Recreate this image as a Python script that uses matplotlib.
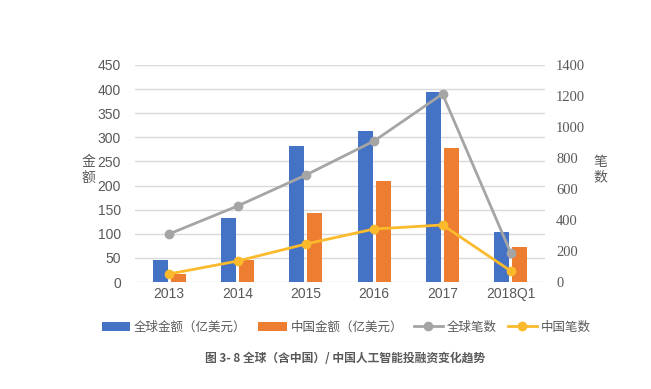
import numpy as np
import matplotlib.pyplot as plt

plt.rcParams['font.family'] = ['Noto Sans CJK SC', 'DejaVu Sans']

years = ["2013", "2014", "2015", "2016", "2017", "2018Q1"]
global_amount = [46, 132, 281, 314, 395, 104]
china_amount = [17, 46, 143, 209, 277, 72]
global_count = [310, 490, 690, 910, 1213, 187]
china_count = [52, 135, 245, 342, 368, 71]

txt = "#595959"
fig = plt.figure(figsize=(6.51, 3.89), dpi=100)
ax = fig.add_axes([135 / 651, 1 - 282 / 389, 410 / 651, 217 / 389])
ax2 = ax.twinx()

x = np.arange(len(years))
w = 0.22
ax.bar(x - 0.13, global_amount, w, color="#4472C4", label="全球金额（亿美元）", zorder=2)
ax.bar(x + 0.13, china_amount, w, color="#ED7D31", label="中国金额（亿美元）", zorder=2)
ax2.plot(x, global_count, color="#A5A5A5", lw=2, marker="o", ms=6, label="全球笔数")
ax2.plot(x, china_count, color="#FBBA2C", lw=2, marker="o", ms=6, label="中国笔数")

ax.set_xlim(-0.5, len(years) - 0.5)
ax.set_ylim(0, 450)
ax.set_yticks(range(0, 451, 50))
ax2.set_ylim(0, 1400)
ax2.set_yticks(range(0, 1401, 200))
ax.set_xticks(x)
ax.set_xticklabels(years)
ax.grid(axis="y", color="#D9D9D9", lw=1, zorder=0)
ax.set_axisbelow(True)

for a in (ax, ax2):
    for s in a.spines.values():
        s.set_visible(False)
    a.tick_params(length=0, colors=txt, labelsize=10)
ax.tick_params(axis="y", pad=10)
ax2.tick_params(axis="y", pad=8)
for t in ax.get_yticklabels() + ax.get_xticklabels():
    t.set_family("Liberation Sans")
for t in ax2.get_yticklabels():
    t.set_family("Liberation Serif")
    t.set_fontsize(10.5)

fig.text(88 / 651, 1 - 170 / 389, "金\n额", ha="center", va="center", color=txt, fontsize=10, linespacing=1.1)
fig.text(600 / 651, 1 - 170 / 389, "笔\n数", ha="center", va="center", color=txt, fontsize=10, linespacing=1.1)

h1, l1 = ax.get_legend_handles_labels()
h2, l2 = ax2.get_legend_handles_labels()
fig.legend(h1 + h2, l1 + l2, loc="center", bbox_to_anchor=(346 / 651, 1 - 327 / 389), ncol=4,
           frameon=False, fontsize=9, labelcolor=txt, handlelength=2.3, columnspacing=0.9,
           handletextpad=0.3)

fig.text(345 / 651, 1 - 358 / 389, "图 3- 8 全球（含中国）/ 中国人工智能投融资变化趋势",
         ha="center", va="center", color=txt, fontsize=8.5, fontweight="bold")

fig.savefig("out.png", dpi=100)
